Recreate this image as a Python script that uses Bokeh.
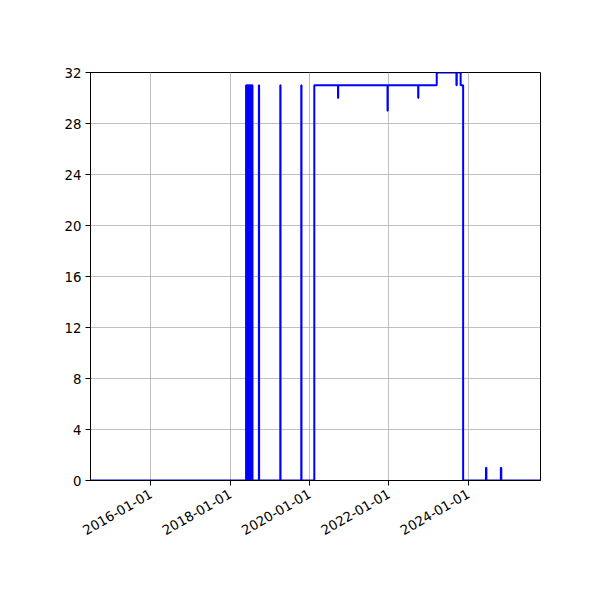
import math

import pandas as pd
from bokeh.embed import file_html
from bokeh.models import ColumnDataSource, DatetimeTickFormatter, FixedTicker, Range1d
from bokeh.plotting import figure
from bokeh.resources import INLINE

# dates where the value changes, and the value held from that date on
change_dates = [
    "2014-06-25",
    # dense on/off period mid 2018
    "2018-05-27", "2018-05-31", "2018-06-04", "2018-06-08", "2018-06-12",
    "2018-06-16", "2018-06-20", "2018-06-24", "2018-06-28", "2018-07-02",
    "2018-07-06", "2018-07-10", "2018-07-14", "2018-07-18", "2018-07-22",
    "2018-07-25",
    "2018-09-22", "2018-09-24", "2019-04-07", "2019-04-09", "2019-10-17",
    "2019-10-19", "2020-02-14", "2020-09-19", "2020-09-21", "2021-12-19",
    "2021-12-21", "2022-09-27", "2022-09-29", "2023-03-17", "2023-09-14",
    "2023-09-17", "2023-10-23", "2023-11-15", "2024-06-12", "2024-06-16",
    "2024-10-27", "2024-10-31", "2025-10-27",
]
change_values = [
    0,
    31, 0, 31, 0, 31,
    0, 31, 0, 31, 0,
    31, 0, 31, 0, 31,
    0,
    31, 0, 31, 0, 31,
    0, 31, 30, 31, 29,
    31, 30, 31, 32, 31,
    32, 31, 0, 1, 0,
    1, 0, 0,
]

x_tick_dates = ["2016-01-01", "2018-01-01", "2020-01-01", "2022-01-01", "2024-01-01"]
y_ticks = [0, 4, 8, 12, 16, 20, 24, 28, 32]

x_start = "2014-06-25"
x_end = "2025-10-27"

dates = pd.to_datetime(change_dates)
source = ColumnDataSource(data=dict(x=dates, y=change_values))

p = figure(width=592, height=592, x_axis_type="datetime",
           output_backend="svg", toolbar_location=None,
           min_border_left=90, min_border_right=52,
           min_border_top=72, min_border_bottom=112)

p.x_range = Range1d(pd.Timestamp(x_start), pd.Timestamp(x_end))
p.y_range = Range1d(0, 32)

p.step(x="x", y="y", source=source, mode="after", line_color="#0000ff", line_width=2)

tick_ms = [pd.Timestamp(d).value / 1e6 for d in x_tick_dates]
p.xaxis.ticker = FixedTicker(ticks=tick_ms)
p.xaxis.formatter = DatetimeTickFormatter(years="%Y-%m-%d", months="%Y-%m-%d",
                                          days="%Y-%m-%d", hours="%Y-%m-%d")
p.xaxis.major_label_orientation = math.pi / 6
p.yaxis.ticker = FixedTicker(ticks=y_ticks)

for ax in (p.xaxis, p.yaxis):
    ax.major_label_text_font = "DejaVu Sans"
    ax.major_label_text_font_size = "13.3px"
    ax.major_label_text_color = "black"
    ax.major_tick_out = 5
    ax.major_tick_in = 0
    ax.major_tick_line_color = "black"
    ax.minor_tick_line_color = None
    ax.axis_line_color = "black"
    ax.major_label_standoff = 4
p.xaxis.major_label_standoff = 7

p.grid.grid_line_color = "#b0b0b0"
p.grid.grid_line_width = 0.8
p.outline_line_color = "black"
p.outline_line_width = 1
p.background_fill_color = "white"
p.border_fill_color = "white"

open("out.html", "w").write(file_html(p, INLINE))
